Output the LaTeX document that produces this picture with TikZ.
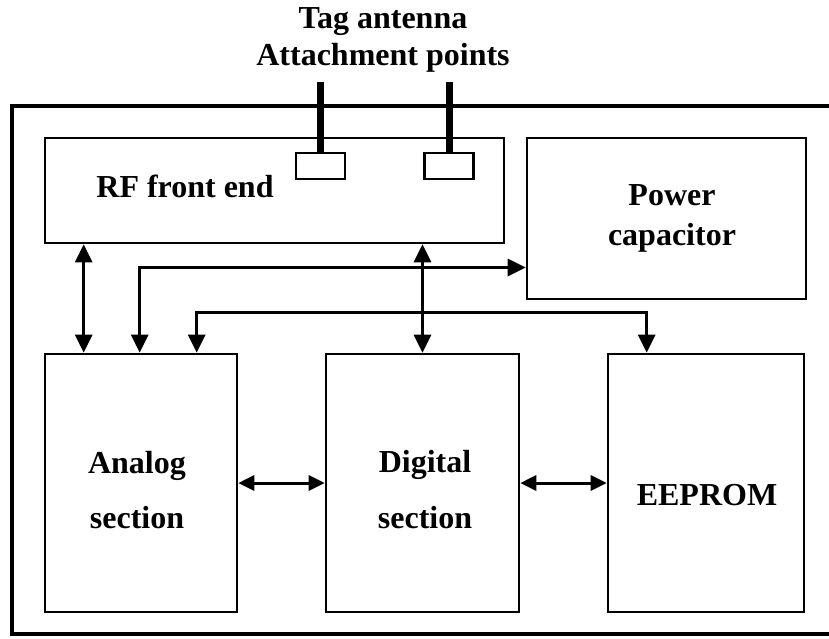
\documentclass[tikz,border=0pt]{standalone}
\usepackage{fontspec}
\setmainfont{Liberation Serif}
\usetikzlibrary{arrows.meta,calc}
\begin{document}
\begin{tikzpicture}[x=1pt,y=-1pt,
  block/.style={draw,line width=2.6pt,inner sep=0pt},
  pad/.style={draw,line width=2.2pt,inner sep=0pt,minimum width=49pt,minimum height=26pt},
  lead/.style={line width=7pt},
  lbl/.style={font=\fontsize{32}{38}\selectfont\bfseries,anchor=base,inner sep=0pt},
  link/.style={line width=3pt,{Triangle[length=18pt,width=17pt]}-{Triangle[length=18pt,width=17pt]}},
  hlink/.style={line width=3pt,{Triangle[length=16pt,width=15pt]}-{Triangle[length=16pt,width=15pt]}}
]
\useasboundingbox (0,0) rectangle (829,638);

% chip outline
\node[draw,line width=3.8pt,inner sep=0pt,minimum width=822pt,minimum height=528pt] (chip) at (423,370) {};

% functional blocks
\node[block,minimum width=459pt,minimum height=105pt] (rf) at (274.5,190.5) {};
\node[block,minimum width=279pt,minimum height=161pt] (pc) at (666.5,218.5) {};
\node[block,minimum width=192pt,minimum height=258pt] (an) at (141,483) {};
\node[block,minimum width=193pt,minimum height=258pt] (dg) at (422.5,483) {};
\node[block,minimum width=196pt,minimum height=258pt] (ee) at (706,483) {};

% antenna attachment pads and leads
\node[pad] (pad1) at (320.5,166) {};
\node[pad] (pad2) at (449,166) {};
\draw[lead] (pad1.north) -- ++(0,-70);
\draw[lead] (pad2.north) -- ++(0,-70);

% labels
\node[lbl] (t1) at (383,28) {Tag antenna};
\node[lbl] (t2) at (383,65) {Attachment points};
\node[lbl] (rft) at (185,197) {RF front end};
\node[lbl] (pc1) at (672,205) {Power};
\node[lbl] (pc2) at (672,245) {capacitor};
\node[lbl] (an1) at (137,473) {Analog};
\node[lbl] (an2) at (137,528) {section};
\node[lbl] (dg1) at (425,472) {Digital};
\node[lbl] (dg2) at (425,528) {section};
\node[lbl] (ee1) at (707,505) {EEPROM};

% connections
\draw[link] ([xshift=40pt]rf.south west) -- ([xshift=40pt]an.north west);
\draw[link] (dg.north |- rf.south) -- (dg.north);
\draw[link] ([xshift=96pt]an.north west) |- ([yshift=-49pt]pc.west);
\draw[link] ([xshift=153pt]an.north west) -- ++(0,-40) -| ([xshift=40pt]ee.north west);
\draw[hlink] (an.east) -- (dg.west);
\draw[hlink] (dg.east) -- (ee.west);
\end{tikzpicture}
\end{document}
